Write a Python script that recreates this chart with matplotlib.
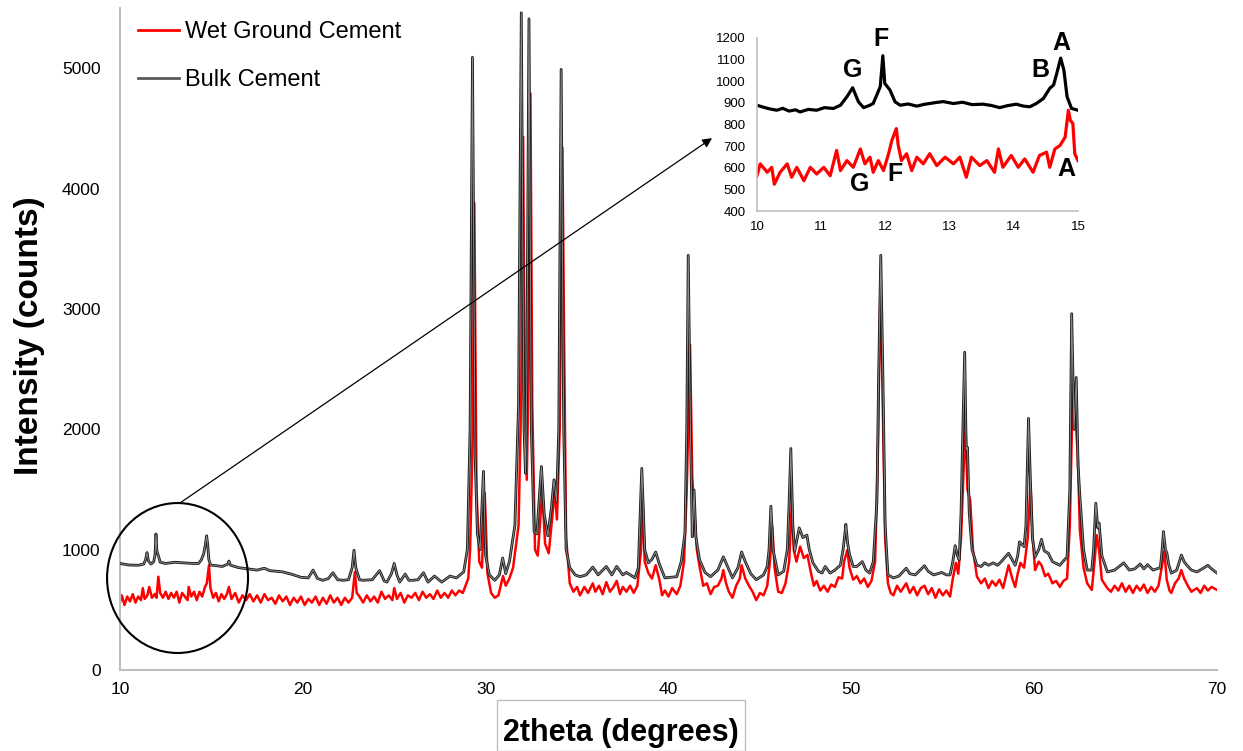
import numpy as np
import matplotlib.pyplot as plt
from matplotlib.patches import Ellipse, Rectangle
from matplotlib.lines import Line2D

# ------------------------------- data -------------------------------

# Bulk cement, main pattern: [2theta, counts]
bulk = np.array([
    [10.0, 885], [10.5, 872], [11.0, 870], [11.3, 880], [11.4, 915], [11.48, 975], [11.56, 905],
    [11.7, 880], [11.85, 900], [11.92, 960], [11.97, 1130], [12.02, 990], [12.1, 950], [12.2, 895],
    [12.5, 885], [13.0, 895], [13.5, 890], [14.0, 885], [14.3, 885], [14.45, 915], [14.58, 965],
    [14.66, 1030], [14.74, 1115], [14.8, 1040], [14.86, 920], [14.95, 872], [15.2, 868], [15.6, 860],
    [15.9, 880], [15.96, 905], [16.05, 870], [16.5, 850], [17.0, 840], [17.5, 830], [17.9, 845],
    [18.2, 825], [18.9, 815], [19.4, 795], [19.9, 770], [20.3, 765], [20.56, 830], [20.8, 760],
    [21.1, 745], [21.4, 760], [21.65, 808], [21.9, 750], [22.2, 745], [22.5, 750], [22.7, 850],
    [22.8, 995], [22.9, 850], [23.1, 750], [23.3, 745], [23.8, 750], [24.2, 825], [24.45, 740],
    [24.6, 730], [24.85, 800], [25.0, 885], [25.15, 790], [25.3, 730], [25.6, 797], [25.8, 745],
    [26.0, 745], [26.3, 750], [26.6, 808], [26.85, 730], [27.2, 780], [27.6, 730], [28.05, 780],
    [28.4, 765], [28.8, 815], [29.0, 1000], [29.15, 2000], [29.28, 5090], [29.42, 1800], [29.55, 1130],
    [29.7, 1000], [29.88, 1650], [30.0, 950], [30.2, 790], [30.5, 745], [30.75, 790], [30.93, 930],
    [31.1, 800], [31.3, 900], [31.6, 1200], [31.8, 2200], [31.95, 5460], [32.1, 2000], [32.18, 1635],
    [32.25, 2400], [32.37, 5410], [32.5, 2000], [32.65, 1150], [32.8, 1130], [33.05, 1690],
    [33.2, 1300], [33.4, 1115], [33.6, 1350], [33.74, 1580], [33.88, 1400], [34.0, 2000],
    [34.13, 4990], [34.27, 2000], [34.4, 1000], [34.6, 850], [34.9, 790], [35.16, 775], [35.5, 790],
    [35.86, 855], [36.15, 790], [36.6, 860], [36.9, 790], [37.17, 860], [37.5, 790], [37.7, 810],
    [38.17, 765], [38.35, 850], [38.54, 1675], [38.7, 1000], [38.9, 890], [39.1, 920], [39.3, 980],
    [39.5, 880], [39.8, 765], [40.1, 770], [40.45, 775], [40.7, 900], [40.9, 1135], [41.0, 2000],
    [41.08, 3445], [41.2, 2000], [41.3, 1107], [41.4, 1495], [41.5, 1100], [41.7, 915], [42.0, 810],
    [42.3, 775], [42.7, 830], [43.0, 940], [43.2, 870], [43.5, 765], [43.8, 850], [44.0, 980],
    [44.2, 900], [44.5, 800], [44.8, 750], [45.2, 790], [45.4, 860], [45.5, 1000], [45.6, 1360],
    [45.72, 1000], [46.0, 790], [46.3, 820], [46.5, 1000], [46.6, 1400], [46.69, 1840], [46.8, 1200],
    [46.9, 985], [47.15, 1180], [47.35, 1100], [47.57, 1120], [47.7, 1000], [47.9, 890], [48.2, 820],
    [48.4, 805], [48.57, 860], [48.84, 805], [49.1, 830], [49.4, 870], [49.55, 1000], [49.63, 1107],
    [49.7, 1210], [49.8, 1050], [49.9, 960], [50.1, 860], [50.3, 860], [50.6, 900], [50.8, 830],
    [51.0, 805], [51.2, 900], [51.4, 1400], [51.5, 2500], [51.61, 3445], [51.72, 2500], [51.85, 1200],
    [52.0, 790], [52.3, 765], [52.6, 780], [53.0, 845], [53.2, 800], [53.5, 790], [54.0, 866],
    [54.2, 820], [54.5, 790], [54.95, 810], [55.2, 790], [55.4, 790], [55.55, 900], [55.68, 1033],
    [55.8, 950], [55.9, 915], [56.0, 1300], [56.1, 2000], [56.2, 2640], [56.28, 1830], [56.35, 1850],
    [56.45, 1300], [56.6, 1000], [56.87, 870], [57.1, 860], [57.3, 890], [57.5, 870], [57.76, 890],
    [58.0, 870], [58.2, 900], [58.6, 970], [58.96, 870], [59.1, 950], [59.2, 1065], [59.45, 1025],
    [59.55, 1200], [59.69, 2090], [59.8, 1540], [59.9, 1100], [60.05, 940], [60.25, 1000],
    [60.4, 1085], [60.55, 990], [60.77, 970], [61.0, 900], [61.4, 870], [61.8, 940], [61.95, 1500],
    [62.05, 2960], [62.18, 2000], [62.3, 2430], [62.4, 1700], [62.5, 1440], [62.7, 1000], [62.9, 830],
    [63.15, 830], [63.25, 1000], [63.37, 1385], [63.48, 1180], [63.55, 1220], [63.7, 950], [64.0, 815],
    [64.4, 830], [64.9, 890], [65.2, 830], [65.5, 840], [65.8, 880], [66.0, 840], [66.2, 875],
    [66.5, 830], [66.9, 850], [67.0, 1000], [67.07, 1150], [67.18, 1000], [67.26, 970], [67.35, 880],
    [67.5, 805], [67.8, 830], [68.05, 955], [68.2, 900], [68.35, 870], [68.6, 830], [68.9, 815],
    [69.2, 840], [69.5, 870], [69.7, 840], [70.0, 805],
])

# Wet ground cement, main pattern: [2theta, counts]
wet = np.array([
    [10.0, 560], [10.1, 620], [10.25, 540], [10.4, 610], [10.55, 570], [10.7, 630], [10.85, 560],
    [11.0, 610], [11.15, 580], [11.25, 680], [11.35, 590], [11.5, 620], [11.6, 690], [11.75, 600],
    [11.9, 630], [12.0, 600], [12.1, 775], [12.2, 640], [12.35, 600], [12.5, 650], [12.65, 590],
    [12.8, 640], [12.95, 600], [13.1, 650], [13.25, 560], [13.4, 640], [13.55, 610], [13.7, 580],
    [13.76, 690], [13.9, 610], [14.05, 650], [14.2, 580], [14.35, 650], [14.5, 610], [14.65, 690],
    [14.75, 720], [14.87, 870], [14.95, 680], [15.1, 600], [15.25, 640], [15.4, 570], [15.55, 630],
    [15.7, 590], [15.85, 630], [15.96, 690], [16.1, 590], [16.3, 640], [16.5, 560], [16.7, 620],
    [16.9, 580], [17.1, 630], [17.3, 570], [17.5, 620], [17.7, 560], [17.9, 630], [18.1, 580],
    [18.3, 600], [18.5, 550], [18.7, 620], [18.9, 570], [19.1, 610], [19.3, 540], [19.5, 600],
    [19.7, 560], [19.9, 610], [20.1, 540], [20.3, 590], [20.5, 560], [20.7, 610], [20.9, 540],
    [21.1, 600], [21.3, 550], [21.5, 620], [21.7, 560], [21.9, 600], [22.1, 540], [22.3, 600],
    [22.5, 560], [22.7, 600], [22.85, 815], [22.95, 640], [23.1, 610], [23.3, 560], [23.5, 620],
    [23.7, 570], [23.9, 610], [24.1, 560], [24.3, 650], [24.5, 590], [24.7, 620], [24.9, 580],
    [25.0, 680], [25.15, 590], [25.35, 640], [25.55, 560], [25.75, 620], [25.95, 600], [26.15, 640],
    [26.35, 580], [26.55, 650], [26.75, 600], [26.95, 630], [27.15, 590], [27.35, 660], [27.55, 600],
    [27.75, 640], [27.95, 600], [28.15, 660], [28.35, 620], [28.55, 660], [28.75, 640], [28.9, 700],
    [29.05, 760], [29.15, 1000], [29.3, 2000], [29.38, 3880], [29.5, 1500], [29.65, 900], [29.8, 850],
    [29.95, 1470], [30.1, 800], [30.3, 640], [30.5, 600], [30.7, 620], [30.95, 780], [31.1, 700],
    [31.3, 760], [31.5, 850], [31.8, 1200], [31.95, 2300], [32.05, 4430], [32.15, 2000],
    [32.25, 1580], [32.35, 2500], [32.45, 4790], [32.55, 2200], [32.7, 1000], [32.85, 950],
    [33.1, 1490], [33.25, 1050], [33.45, 970], [33.6, 1200], [33.78, 1490], [33.9, 1250],
    [34.05, 2000], [34.2, 4340], [34.3, 2600], [34.4, 1100], [34.6, 720], [34.8, 650], [35.0, 690],
    [35.16, 620], [35.4, 690], [35.6, 640], [35.86, 720], [36.0, 650], [36.2, 700], [36.4, 630],
    [36.6, 730], [36.8, 650], [37.0, 690], [37.17, 740], [37.35, 630], [37.5, 690], [37.7, 650],
    [37.9, 700], [38.1, 640], [38.3, 700], [38.5, 1000], [38.6, 1370], [38.7, 900], [38.9, 805],
    [39.1, 760], [39.3, 870], [39.5, 750], [39.65, 620], [39.8, 660], [40.0, 610], [40.2, 680],
    [40.45, 630], [40.65, 700], [40.85, 900], [41.0, 1500], [41.18, 2700], [41.3, 1600],
    [41.42, 1315], [41.55, 1000], [41.7, 860], [41.9, 700], [42.1, 720], [42.3, 630], [42.5, 690],
    [42.7, 700], [42.9, 760], [43.0, 830], [43.15, 720], [43.3, 650], [43.5, 600], [43.7, 700],
    [43.9, 760], [44.0, 870], [44.2, 760], [44.4, 700], [44.6, 650], [44.8, 580], [45.0, 640],
    [45.2, 620], [45.4, 700], [45.55, 900], [45.68, 1190], [45.8, 850], [46.0, 650], [46.2, 640],
    [46.4, 720], [46.6, 900], [46.75, 1400], [46.85, 1000], [47.0, 900], [47.2, 1025], [47.4, 930],
    [47.6, 955], [47.8, 800], [47.95, 700], [48.1, 740], [48.3, 660], [48.5, 700], [48.7, 650],
    [48.9, 710], [49.1, 690], [49.3, 770], [49.5, 760], [49.6, 900], [49.78, 995], [49.9, 850],
    [50.1, 750], [50.3, 780], [50.5, 720], [50.7, 760], [50.9, 690], [51.1, 740], [51.3, 900],
    [51.45, 1800], [51.6, 3290], [51.72, 2200], [51.85, 1100], [52.0, 720], [52.15, 640], [52.3, 620],
    [52.5, 700], [52.7, 650], [53.0, 720], [53.2, 640], [53.4, 690], [53.6, 620], [53.8, 680],
    [54.0, 700], [54.2, 630], [54.4, 680], [54.6, 600], [54.8, 670], [55.0, 620], [55.2, 660],
    [55.4, 610], [55.55, 760], [55.72, 890], [55.85, 800], [56.0, 1100], [56.15, 1700], [56.25, 2035],
    [56.35, 1500], [56.5, 1410], [56.65, 1000], [56.87, 775], [57.1, 720], [57.3, 760], [57.5, 680],
    [57.7, 740], [57.9, 700], [58.1, 750], [58.3, 680], [58.6, 870], [58.8, 760], [58.96, 690],
    [59.1, 800], [59.25, 890], [59.45, 850], [59.65, 1100], [59.8, 1550], [59.92, 1100], [60.05, 830],
    [60.25, 900], [60.4, 870], [60.6, 780], [60.77, 800], [61.0, 720], [61.2, 740], [61.4, 690],
    [61.6, 740], [61.8, 760], [61.95, 1200], [62.1, 2280], [62.2, 2000], [62.28, 2050], [62.38, 1800],
    [62.5, 1160], [62.7, 850], [62.9, 720], [63.15, 665], [63.3, 900], [63.42, 1120], [63.55, 995],
    [63.7, 750], [64.0, 680], [64.2, 650], [64.4, 700], [64.6, 660], [64.8, 720], [65.0, 650],
    [65.2, 700], [65.4, 640], [65.6, 700], [65.8, 660], [66.0, 710], [66.2, 640], [66.4, 690],
    [66.6, 650], [66.8, 700], [66.95, 830], [67.12, 985], [67.25, 750], [67.4, 660], [67.5, 640],
    [67.7, 720], [67.9, 760], [68.05, 830], [68.2, 760], [68.4, 700], [68.6, 650], [68.9, 680],
    [69.1, 640], [69.3, 700], [69.5, 660], [69.7, 690], [70.0, 665],
])

# Inset, 10-15 degrees
inset_bulk = np.array([
    [10.0, 889], [10.1, 880], [10.2, 872], [10.31, 866], [10.4, 875], [10.5, 862], [10.6, 868],
    [10.67, 858], [10.8, 870], [10.93, 866], [11.05, 878], [11.19, 874], [11.3, 889], [11.4, 928],
    [11.49, 970], [11.58, 905], [11.66, 878], [11.75, 888], [11.81, 897], [11.92, 975], [11.96, 1118],
    [11.99, 990], [12.07, 960], [12.15, 905], [12.23, 889], [12.35, 895], [12.49, 885], [12.6, 893],
    [12.75, 900], [12.9, 906], [13.06, 897], [13.2, 903], [13.35, 892], [13.52, 894], [13.65, 888],
    [13.78, 878], [13.9, 887], [14.04, 894], [14.15, 885], [14.25, 882], [14.35, 897], [14.46, 920],
    [14.56, 967], [14.62, 983], [14.67, 1037], [14.73, 1107], [14.78, 1052], [14.83, 928],
    [14.9, 874], [15.0, 866],
])

inset_wet = np.array([
    [10.0, 563], [10.05, 618], [10.16, 579], [10.23, 602], [10.27, 524], [10.36, 579], [10.47, 618],
    [10.54, 556], [10.62, 602], [10.73, 540], [10.83, 602], [10.93, 571], [11.04, 602], [11.14, 563],
    [11.24, 680], [11.3, 587], [11.4, 633], [11.5, 602], [11.61, 687], [11.68, 618], [11.76, 649],
    [11.81, 579], [11.89, 633], [11.97, 587], [12.05, 665], [12.1, 726], [12.17, 781], [12.2, 703],
    [12.25, 633], [12.33, 665], [12.41, 587], [12.49, 649], [12.59, 618], [12.69, 665], [12.8, 610],
    [12.93, 649], [13.06, 618], [13.16, 649], [13.26, 556], [13.34, 649], [13.47, 610], [13.58, 633],
    [13.7, 579], [13.76, 687], [13.83, 602], [13.96, 657], [14.07, 602], [14.17, 641], [14.3, 579],
    [14.4, 657], [14.51, 672], [14.56, 602], [14.64, 687], [14.72, 703], [14.8, 742], [14.85, 866],
    [14.88, 820], [14.92, 804], [14.95, 664], [15.0, 633],
])

# phase labels in the inset: (letter, 2theta, counts)
inset_labels = [('G', 11.49, 1052), ('F', 11.93, 1195), ('B', 14.41, 1052), ('A', 14.74, 1177),
                ('G', 11.60, 524), ('F', 12.15, 571), ('A', 14.82, 594)]

# ---------------------------------------- plot ----------------------------------------

plt.rcParams['font.family'] = ['Liberation Sans', 'DejaVu Sans']
axis_grey = '#bfbfbf'
W, H = 1243, 751

fig = plt.figure(figsize=(12.43, 7.51), dpi=100)
ax = fig.add_axes([0.0965, 0.1079, 0.8826, 0.8814])

ax.plot(wet[:, 0], wet[:, 1], color='red', lw=1.8, zorder=2)
ax.plot(bulk[:, 0], bulk[:, 1], color='#1a1a1a', lw=2.0, zorder=3)
ax.plot(bulk[:, 0], bulk[:, 1], color='#8c8c8c', lw=0.7, zorder=3)

ax.set_xlim(10, 70)
ax.set_ylim(0, 5500)
ax.set_xticks(np.arange(10, 71, 10))
ax.set_yticks(np.arange(0, 5001, 1000))
ax.tick_params(axis='both', length=0, labelsize=12.5, colors='black')
ax.tick_params(axis='y', pad=14)
ax.tick_params(axis='x', pad=9)
for s in ['top', 'right']:
    ax.spines[s].set_visible(False)
for s in ['left', 'bottom']:
    ax.spines[s].set_color(axis_grey)
    ax.spines[s].set_linewidth(1.5)

handles = [Line2D([], [], color='red', lw=2), Line2D([], [], color='#595959', lw=2)]
ax.legend(handles, ['Wet Ground Cement', 'Bulk Cement'], loc='upper left',
          bbox_to_anchor=(-0.003, 1.012), frameon=False, fontsize=17, handlelength=1.75,
          handletextpad=0.25, labelspacing=1.1)

# circle around the low angle region and arrow to the inset
ax.add_patch(Ellipse((13.15, 764), 7.71, 1246, fill=False, lw=1.5, ec='black',
                     clip_on=False, zorder=5))
ax.annotate('', xy=(42.38, 4419), xytext=(13.28, 1387), annotation_clip=False,
            arrowprops=dict(arrowstyle='-|>', color='black', lw=0.9, shrinkA=0, shrinkB=0,
                            mutation_scale=14), zorder=6)

fig.text(30 / W, 1 - 336 / H, 'Intensity (counts)', rotation=90, ha='center', va='center',
         fontsize=24, fontweight='bold')
fig.patches.append(Rectangle((497 / W, 0), 248 / W, 51 / H, transform=fig.transFigure,
                             facecolor='white', edgecolor=axis_grey, lw=1))
fig.text(621 / W, 1 - 733 / H, '2theta (degrees)', ha='center', va='center',
         fontsize=22, fontweight='bold')

# inset
axi = fig.add_axes([757 / W, 1 - 211 / H, 321 / W, 173 / H])
axi.plot(inset_wet[:, 0], inset_wet[:, 1], color='red', lw=2.3)
axi.plot(inset_bulk[:, 0], inset_bulk[:, 1], color='black', lw=2.3)
axi.set_xlim(10, 15)
axi.set_ylim(400, 1200)
axi.set_xticks(np.arange(10, 16, 1))
axi.set_yticks(np.arange(400, 1201, 100))
axi.tick_params(axis='both', length=0, labelsize=9.5)
axi.tick_params(axis='y', pad=8)
axi.tick_params(axis='x', pad=7)
for s in ['top', 'right']:
    axi.spines[s].set_visible(False)
for s in ['left', 'bottom']:
    axi.spines[s].set_color(axis_grey)
    axi.spines[s].set_linewidth(1.2)
axi.patch.set_alpha(0)
for letter, x, y in inset_labels:
    axi.text(x, y, letter, ha='center', va='center', fontsize=18, fontweight='bold',
             clip_on=False)

fig.savefig('out.png', dpi=100)
